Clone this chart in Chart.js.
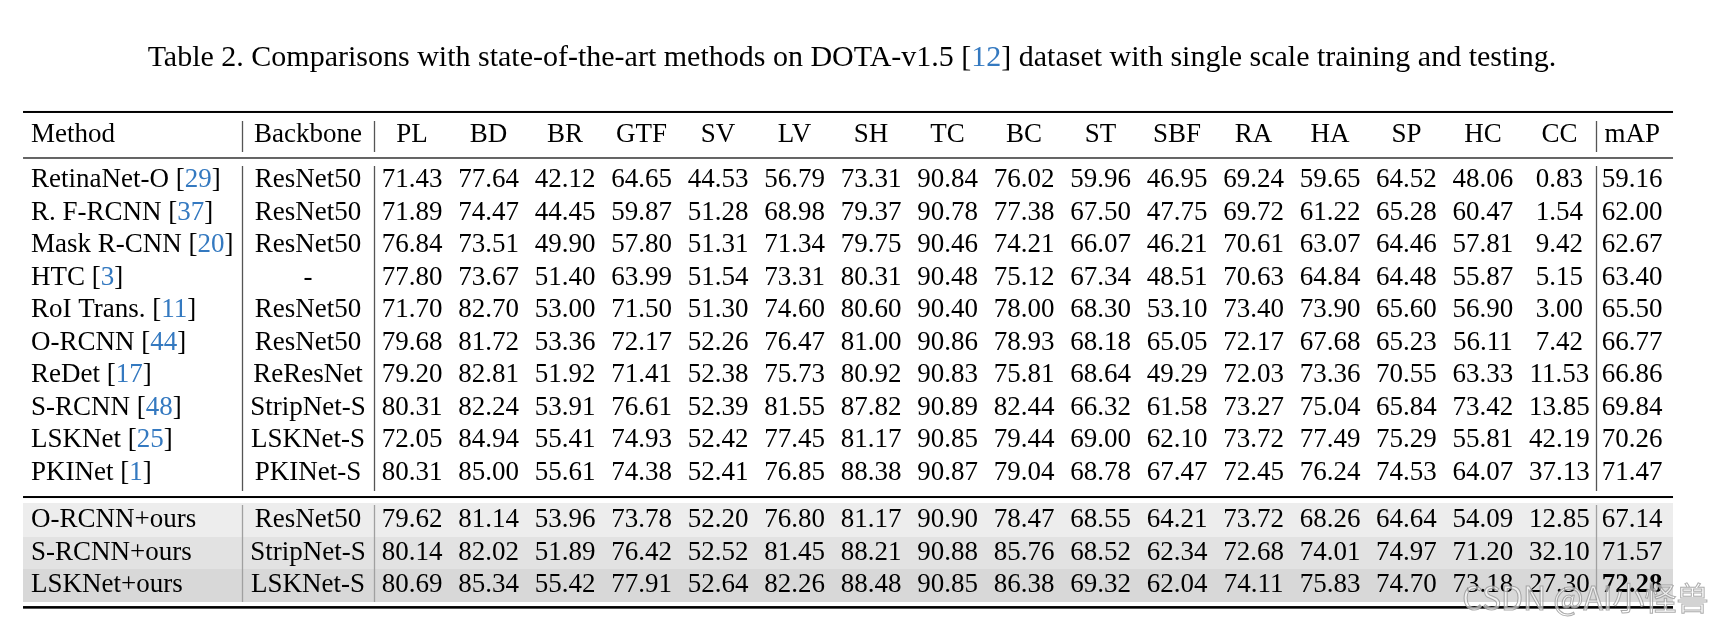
<!DOCTYPE html>
<html lang="en">
<head>
  <meta charset="UTF-8">
  <title>DOTA-v1.5 comparison table</title>
  <script src="https://cdn.jsdelivr.net/npm/chart.js"></script>
  <style>
    html, body { margin: 0; padding: 0; background: #fff; }
    canvas { display: block; }
  </style>
</head>
<body>
  <canvas id="tableChart" width="1718" height="631"></canvas>

  <script>
    const captionParts = ["Table 2. Comparisons with state-of-the-art methods on DOTA-v1.5 [", "12", "] dataset with single scale training and testing."];
    const categories = ["PL", "BD", "BR", "GTF", "SV", "LV", "SH", "TC", "BC", "ST", "SBF", "RA", "HA", "SP", "HC", "CC"];
    const methods = ["RetinaNet-O", "R. F-RCNN", "Mask R-CNN", "HTC", "RoI Trans.", "O-RCNN", "ReDet", "S-RCNN", "LSKNet", "PKINet",
                     "O-RCNN+ours", "S-RCNN+ours", "LSKNet+ours"];
    const refs = ["29", "37", "20", "3", "11", "44", "17", "48", "25", "1", "", "", ""];
    const backbones = ["ResNet50", "ResNet50", "ResNet50", "-", "ResNet50", "ResNet50", "ReResNet", "StripNet-S", "LSKNet-S", "PKINet-S",
                       "ResNet50", "StripNet-S", "LSKNet-S"];

    const retinaNetO = [71.43, 77.64, 42.12, 64.65, 44.53, 56.79, 73.31, 90.84, 76.02, 59.96, 46.95, 69.24, 59.65, 64.52, 48.06, 0.83];
    const rFRcnn     = [71.89, 74.47, 44.45, 59.87, 51.28, 68.98, 79.37, 90.78, 77.38, 67.50, 47.75, 69.72, 61.22, 65.28, 60.47, 1.54];
    const maskRcnn   = [76.84, 73.51, 49.90, 57.80, 51.31, 71.34, 79.75, 90.46, 74.21, 66.07, 46.21, 70.61, 63.07, 64.46, 57.81, 9.42];
    const htc        = [77.80, 73.67, 51.40, 63.99, 51.54, 73.31, 80.31, 90.48, 75.12, 67.34, 48.51, 70.63, 64.84, 64.48, 55.87, 5.15];
    const roiTrans   = [71.70, 82.70, 53.00, 71.50, 51.30, 74.60, 80.60, 90.40, 78.00, 68.30, 53.10, 73.40, 73.90, 65.60, 56.90, 3.00];
    const oRcnn      = [79.68, 81.72, 53.36, 72.17, 52.26, 76.47, 81.00, 90.86, 78.93, 68.18, 65.05, 72.17, 67.68, 65.23, 56.11, 7.42];
    const reDet      = [79.20, 82.81, 51.92, 71.41, 52.38, 75.73, 80.92, 90.83, 75.81, 68.64, 49.29, 72.03, 73.36, 70.55, 63.33, 11.53];
    const sRcnn      = [80.31, 82.24, 53.91, 76.61, 52.39, 81.55, 87.82, 90.89, 82.44, 66.32, 61.58, 73.27, 75.04, 65.84, 73.42, 13.85];
    const lskNet     = [72.05, 84.94, 55.41, 74.93, 52.42, 77.45, 81.17, 90.85, 79.44, 69.00, 62.10, 73.72, 77.49, 75.29, 55.81, 42.19];
    const pkiNet     = [80.31, 85.00, 55.61, 74.38, 52.41, 76.85, 88.38, 90.87, 79.04, 68.78, 67.47, 72.45, 76.24, 74.53, 64.07, 37.13];
    const oRcnnOurs  = [79.62, 81.14, 53.96, 73.78, 52.20, 76.80, 81.17, 90.90, 78.47, 68.55, 64.21, 73.72, 68.26, 64.64, 54.09, 12.85];
    const sRcnnOurs  = [80.14, 82.02, 51.89, 76.42, 52.52, 81.45, 88.21, 90.88, 85.76, 68.52, 62.34, 72.68, 74.01, 74.97, 71.20, 32.10];
    const lskNetOurs = [80.69, 85.34, 55.42, 77.91, 52.64, 82.26, 88.48, 90.85, 86.38, 69.32, 62.04, 74.11, 75.83, 74.70, 73.18, 27.30];
    const scoreRows = [retinaNetO, rFRcnn, maskRcnn, htc, roiTrans, oRcnn, reDet, sRcnn, lskNet, pkiNet, oRcnnOurs, sRcnnOurs, lskNetOurs];
    const mAP = [59.16, 62.00, 62.67, 63.40, 65.50, 66.77, 66.86, 69.84, 70.26, 71.47, 67.14, 71.57, 72.28];
    const bestRow = 12; // bold mAP
    const oursStart = 10;
    const watermark = "CSDN @AI小怪兽";

    // ---- layout (x in column widths, PL = 0; y in row heights, first row = 0) ----
    const X_MIN = -5.386, X_MAX = 17.072;
    const Y_MIN = -5.53, Y_MAX = 13.856;
    const MAP_X = 15.95, METHOD_X = -4.98, BACKBONE_X = -1.36, CAPTION_X = 5.75, WM_X = 13.73;
    const TABLE_L = -5.085, TABLE_R = 16.484;
    const SEP_X = [-2.222, -0.497, 15.477];
    const CAPTION_Y = -3.75, HEADER_Y = -1.38, OURS_SHIFT = 0.45, WM_Y = 12.84;
    const RULES = [[-2.09, 2], [-0.676, 1.2], [9.74, 2], [13.13, 2.6]];
    const VSEGS = [[-1.813, -0.86, "#555"], [-0.43, 9.555, "#555"], [9.985, 12.965, "#a0a0a0"]];
    const BANDS = [[9.923, 10.968, "#ededed"], [10.968, 11.951, "#e2e2e2"], [11.951, 12.965, "#d8d8d8"]];
    const FONT = '27px "Liberation Serif"';
    const BOLD = 'bold 27px "Liberation Serif"';
    const CAPTION_FONT = '30px "Liberation Serif"';
    const LINK = "#3479c0";

    const rowY = (r) => (r >= oursStart ? r + OURS_SHIFT : r);

    // one point per numeric cell
    const cells = [];
    const cellText = [];
    const cellBold = [];
    scoreRows.forEach((row, r) => {
      row.forEach((v, c) => {
        cells.push({ x: c, y: rowY(r) });
        cellText.push(v.toFixed(2));
        cellBold.push(false);
      });
      cells.push({ x: MAP_X, y: rowY(r) });
      cellText.push(mAP[r].toFixed(2));
      cellBold.push(r === bestRow);
    });

    function drawPieces(ctx, pieces, x, y, align) {
      let w = 0;
      pieces.forEach(p => { ctx.font = p.font || FONT; w += ctx.measureText(p.t).width; });
      let cx = align === "center" ? x - w / 2 : x;
      ctx.textAlign = "left";
      pieces.forEach(p => {
        ctx.font = p.font || FONT;
        ctx.fillStyle = p.color || "#000";
        ctx.fillText(p.t, cx, y);
        cx += ctx.measureText(p.t).width;
      });
    }

    const tablePlugin = {
      id: "tablePlugin",
      beforeDatasetsDraw(chart) {
        const ctx = chart.ctx, xs = chart.scales.x, ys = chart.scales.y;
        const xl = xs.getPixelForValue(TABLE_L), xr = xs.getPixelForValue(TABLE_R);
        ctx.save();
        BANDS.forEach(([a, b, col]) => {
          const ya = ys.getPixelForValue(a), yb = ys.getPixelForValue(b);
          ctx.fillStyle = col;
          ctx.fillRect(xl, ya, xr - xl, yb - ya);
        });
        RULES.forEach(([y, t]) => {
          ctx.fillStyle = "#000";
          ctx.fillRect(xl, ys.getPixelForValue(y) - t / 2, xr - xl, t);
        });
        VSEGS.forEach(([a, b, col]) => {
          ctx.strokeStyle = col;
          ctx.lineWidth = 1.3;
          SEP_X.forEach(sx => {
            const px = Math.round(xs.getPixelForValue(sx)) + 0.5;
            ctx.beginPath();
            ctx.moveTo(px, ys.getPixelForValue(a));
            ctx.lineTo(px, ys.getPixelForValue(b));
            ctx.stroke();
          });
        });
        ctx.restore();
      },
      afterDatasetsDraw(chart) {
        const ctx = chart.ctx, xs = chart.scales.x, ys = chart.scales.y;
        ctx.save();
        ctx.textBaseline = "middle";

        // caption
        drawPieces(ctx, [
          { t: captionParts[0], font: CAPTION_FONT },
          { t: captionParts[1], font: CAPTION_FONT, color: LINK },
          { t: captionParts[2], font: CAPTION_FONT }
        ], xs.getPixelForValue(CAPTION_X), ys.getPixelForValue(CAPTION_Y), "center");

        // header
        const hy = ys.getPixelForValue(HEADER_Y);
        ctx.font = FONT;
        ctx.fillStyle = "#000";
        ctx.textAlign = "left";
        ctx.fillText("Method", xs.getPixelForValue(METHOD_X), hy);
        ctx.textAlign = "center";
        ctx.fillText("Backbone", xs.getPixelForValue(BACKBONE_X), hy);
        categories.forEach((c, i) => ctx.fillText(c, xs.getPixelForValue(i), hy));
        ctx.fillText("mAP", xs.getPixelForValue(MAP_X), hy);

        // method and backbone columns
        methods.forEach((m, r) => {
          const y = ys.getPixelForValue(rowY(r));
          const pieces = refs[r] ? [{ t: m + " [" }, { t: refs[r], color: LINK }, { t: "]" }] : [{ t: m }];
          drawPieces(ctx, pieces, xs.getPixelForValue(METHOD_X), y, "left");
          ctx.font = FONT;
          ctx.fillStyle = "#000";
          ctx.textAlign = "center";
          ctx.fillText(backbones[r], xs.getPixelForValue(BACKBONE_X), y);
        });

        // numeric cells at their plotted points
        const meta = chart.getDatasetMeta(0);
        ctx.textAlign = "center";
        ctx.fillStyle = "#000";
        meta.data.forEach((el, i) => {
          ctx.font = cellBold[i] ? BOLD : FONT;
          ctx.fillText(cellText[i], el.x, el.y);
        });

        // watermark (outlined)
        ctx.font = '32px "Noto Sans CJK SC", "Noto Sans", sans-serif';
        ctx.textAlign = "left";
        const wx = xs.getPixelForValue(WM_X), wy = ys.getPixelForValue(WM_Y);
        ctx.fillStyle = "rgba(255, 255, 255, 0.6)";
        ctx.fillText(watermark, wx, wy);
        ctx.strokeStyle = "rgba(150, 150, 150, 0.8)";
        ctx.lineWidth = 1;
        ctx.strokeText(watermark, wx, wy);
        ctx.restore();
      }
    };

    new Chart(document.getElementById("tableChart").getContext("2d"), {
      type: "scatter",
      data: {
        datasets: [{
          data: cells,
          pointRadius: 0,
          pointHoverRadius: 0,
        }],
      },
      options: {
        responsive: false,
        animation: false,
        events: [],
        layout: { padding: 0 },
        plugins: {
          legend: { display: false },
          tooltip: { enabled: false },
        },
        scales: {
          x: { type: "linear", display: false, min: X_MIN, max: X_MAX },
          y: { type: "linear", display: false, min: Y_MIN, max: Y_MAX, reverse: true },
        },
      },
      plugins: [tablePlugin],
    });
  </script>
</body>
</html>
